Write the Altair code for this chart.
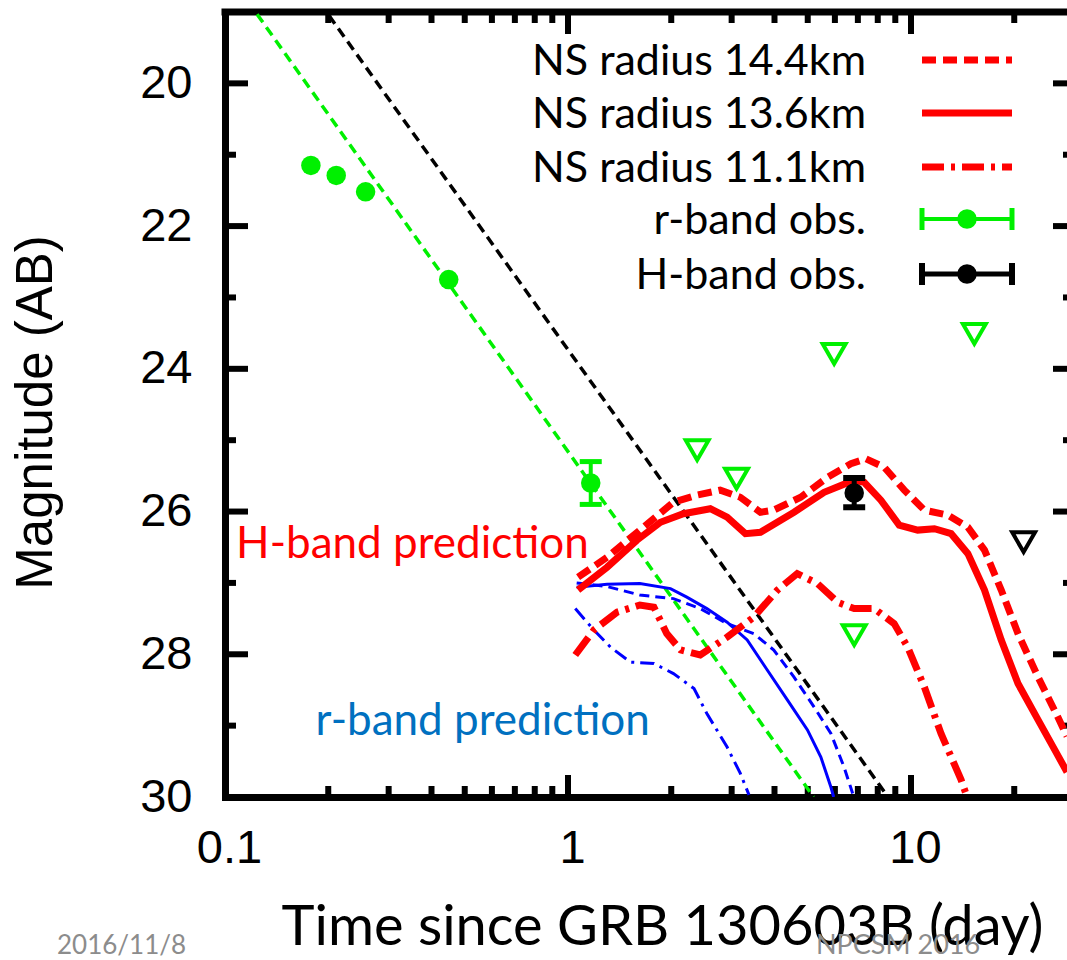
import altair as alt
import pandas as pd

# ---------------- data ----------------
# r-band observations (detections)
r_obs_t = [0.178, 0.211, 0.257, 0.449, 1.165]
r_obs_mag = [21.15, 21.29, 21.52, 22.75, 25.60]
r_err_t = [1.165]
r_err_lo = [25.30]
r_err_hi = [25.90]

# H-band observation
h_obs_t = [6.83]
h_obs_mag = [25.74]
h_err_lo = [25.53]
h_err_hi = [25.94]

# upper limits
r_lim_t = [2.38, 3.10, 5.97, 6.83, 15.3]
r_lim_mag = [25.14, 25.54, 23.79, 27.73, 23.51]
h_lim_t = [21.3]
h_lim_mag = [26.43]

# afterglow power-law fits (straight in log t)
r_ag_t = [0.124, 5.2]
r_ag_mag = [19.03, 30.0]
h_ag_t = [0.201, 8.57]
h_ag_mag = [19.05, 30.0]

# H-band kilonova predictions
h144_t = [1.07, 1.30, 1.62, 2.03, 2.38, 2.78, 3.18, 3.64, 3.98, 4.77, 5.71, 6.68, 7.39, 8.36, 9.56,
          10.94, 12.80, 14.65, 16.38, 18.33, 20.51, 23.47, 26.8, 28.5]
h144_mag = [26.92, 26.64, 26.26, 25.87, 25.77, 25.70, 25.80, 26.01, 25.98, 25.80, 25.52, 25.33, 25.26,
            25.38, 25.70, 25.98, 26.05, 26.22, 26.54, 27.10, 27.71, 28.32, 28.88, 29.15]
h136_t = [1.07, 1.30, 1.59, 1.86, 2.17, 2.60, 2.91, 3.29, 3.64, 4.56, 5.58, 6.82, 7.30, 8.17, 9.24,
          10.46, 11.70, 13.09, 14.65, 16.38, 18.33, 20.51, 23.47, 26.25, 28.5]
h136_mag = [27.10, 26.78, 26.40, 26.15, 26.03, 25.96, 26.08, 26.31, 26.29, 26.01, 25.73, 25.56, 25.59,
            25.84, 26.19, 26.26, 26.24, 26.31, 26.59, 27.10, 27.80, 28.41, 28.92, 29.34, 29.65]
h111_t = [1.05, 1.19, 1.39, 1.62, 1.78, 1.94, 2.13, 2.43, 2.91, 3.48, 4.08, 4.66, 5.34, 6.11, 6.83,
          7.81, 8.93, 9.78, 10.94, 12.23, 14.0, 14.5]
h111_mag = [28.01, 27.66, 27.41, 27.31, 27.34, 27.71, 27.94, 28.01, 27.76, 27.48, 27.10, 26.87, 27.01,
            27.27, 27.36, 27.36, 27.57, 27.90, 28.46, 29.11, 29.76, 29.97]

# r-band kilonova predictions
r144_t = [1.06, 1.30, 1.62, 2.03, 2.43, 2.91, 3.48, 3.98, 4.56, 5.22, 5.84, 6.38, 6.76]
r144_mag = [27.00, 27.05, 27.17, 27.22, 27.36, 27.57, 27.71, 27.94, 28.32, 28.74, 29.11, 29.58, 29.95]
r136_t = [1.06, 1.30, 1.62, 1.99, 2.22, 2.54, 2.91, 3.33, 3.81, 4.36, 4.99, 5.46, 5.84, 5.95]
r136_mag = [27.06, 27.02, 27.01, 27.08, 27.20, 27.36, 27.55, 27.80, 28.22, 28.64, 29.06, 29.44, 29.86, 30.0]
r111_t = [1.05, 1.19, 1.33, 1.52, 1.78, 2.03, 2.33, 2.54, 2.91, 3.18, 3.37]
r111_mag = [27.36, 27.66, 27.90, 28.11, 28.13, 28.27, 28.48, 28.83, 29.30, 29.67, 29.97]

# axis ticks
x_major = [1, 10]
x_minor = [0.2, 0.3, 0.4, 0.5, 0.6, 0.7, 0.8, 0.9, 2, 3, 4, 5, 6, 7, 8, 9, 20]
y_major = [20, 22, 24, 26, 28]
y_minor = [21, 23, 25, 27, 29]
x_labels = [0.1, 1, 10]
y_labels = [20, 22, 24, 26, 28, 30]

legend_labels = ["NS radius 14.4km", "NS radius 13.6km", "NS radius 11.1km", "r-band obs.", "H-band obs."]

# ---------------- layout / styles ----------------
W, H = 842, 785
RED, GREEN, BLUE, BLACK = "#FF0000", "#00F000", "#0000FF", "#000000"
xs = alt.Scale(type="log", domain=[0.1, 28.5], nice=False)
ys = alt.Scale(domain=[19, 30], reverse=True, nice=False, zero=False)
ONE = pd.DataFrame({"a": [0]})

XAX = alt.Axis(
    values=x_labels, format="~g", grid=False, ticks=False, tickSize=0,
    domain=True, domainColor="black", domainWidth=7, domainCap="square",
    labelFont="Liberation Sans", labelFontSize=47, labelColor="black",
    labelPadding=28, labelOffset=4, labelFlush=False, labelOverlap=False,
    title="Time since GRB 130603B (day)", titleFont="Lato", titleFontSize=56,
    titleFontWeight="normal", titleColor="black", titleX=437, titleY=147,
    titleBaseline="alphabetic", titleAlign="center")
YAX = alt.Axis(
    values=y_labels, format="d", grid=False, ticks=False, tickSize=0,
    domain=True, domainColor="black", domainWidth=7, domainCap="square",
    labelFont="Liberation Sans", labelFontSize=47, labelColor="black",
    labelPadding=33, labelFlush=False, labelOverlap=False,
    title="Magnitude (AB)", titleFont="Liberation Sans", titleFontSize=51,
    titleFontWeight="normal", titleColor="black", titleAngle=270,
    titleX=-189, titleY=400, titleAlign="center", titleBaseline="middle")


def X(field="t"):
    return alt.X(f"{field}:Q", scale=xs, axis=XAX)


def Y(field="m"):
    return alt.Y(f"{field}:Q", scale=ys, axis=YAX)


def line(t, m, color, width, dash=None):
    kw = dict(color=color, strokeWidth=width, clip=True)
    if dash:
        kw["strokeDash"] = dash
    return alt.Chart(pd.DataFrame({"t": t, "m": m})).mark_line(**kw).encode(x=X(), y=Y(), order="t:Q")


# axes carrier layer (invisible)
axes = alt.Chart(pd.DataFrame({"t": [0.1], "m": [30]})).mark_point(opacity=0).encode(x=X(), y=Y())

layers = [axes]

# frame top
layers.append(alt.Chart(ONE).mark_rule(color="black", strokeWidth=7, strokeCap="square").encode(
    x=alt.value(0), x2=alt.value(W), y=alt.value(0)))


# ticks (inward)
def xticks(vals, length, top):
    d = pd.DataFrame({"t": vals})
    y0, y1 = (0, length) if top else (H, H - length)
    return alt.Chart(d).mark_rule(color="black", strokeWidth=6).encode(
        x=X(), y=alt.value(y0), y2=alt.value(y1))


def yticks(vals, x0, x1):
    d = pd.DataFrame({"m": vals})
    return alt.Chart(d).mark_rule(color="black", strokeWidth=6).encode(
        y=Y(), x=alt.value(x0), x2=alt.value(x1))


layers += [xticks(x_major, 22, False), xticks(x_minor, 11, False),
           xticks(x_major, 22, True), xticks(x_minor, 11, True),
           yticks(y_major, 0, 23), yticks(y_minor, 0, 11),
           yticks(y_major, W - 14, W), yticks(y_minor, W - 4, W)]

# afterglow lines
layers.append(line(r_ag_t, r_ag_mag, GREEN, 3.5, [10, 6]))
layers.append(line(h_ag_t, h_ag_mag, BLACK, 3.5, [10, 6]))

# r-band predictions (blue, thin)
layers.append(line(r144_t, r144_mag, BLUE, 3, [10, 6]))
layers.append(line(r136_t, r136_mag, BLUE, 3))
layers.append(line(r111_t, r111_mag, BLUE, 3, [14, 6, 3, 6]))

# H-band predictions (red, thick)
layers.append(line(h144_t, h144_mag, RED, 7, [14, 7]))
layers.append(line(h136_t, h136_mag, RED, 7))
layers.append(line(h111_t, h111_mag, RED, 7, [22, 7, 4, 7]))

# upper limits
layers.append(alt.Chart(pd.DataFrame({"t": r_lim_t, "m": r_lim_mag})).mark_point(
    shape="triangle-down", filled=False, color=GREEN, strokeWidth=4, size=520, opacity=1).encode(x=X(), y=Y()))
layers.append(alt.Chart(pd.DataFrame({"t": h_lim_t, "m": h_lim_mag})).mark_point(
    shape="triangle-down", filled=False, color=BLACK, strokeWidth=4, size=520, opacity=1).encode(x=X(), y=Y()))


# error bars
def errbar(t, lo, hi, color, width):
    d = pd.DataFrame({"t": t, "lo": lo, "hi": hi})
    bar = alt.Chart(d).mark_rule(color=color, strokeWidth=width).encode(x=X(), y=Y("lo"), y2="hi:Q")
    cap1 = alt.Chart(d).mark_tick(color=color, orient="horizontal", size=22, thickness=width + 1, opacity=1).encode(x=X(), y=Y("lo"))
    cap2 = alt.Chart(d).mark_tick(color=color, orient="horizontal", size=22, thickness=width + 1, opacity=1).encode(x=X(), y=Y("hi"))
    return [bar, cap1, cap2]


layers += errbar(r_err_t, r_err_lo, r_err_hi, GREEN, 4)
layers += errbar(h_obs_t, h_err_lo, h_err_hi, BLACK, 5)

# detections
layers.append(alt.Chart(pd.DataFrame({"t": r_obs_t, "m": r_obs_mag})).mark_circle(
    color=GREEN, size=380, opacity=1).encode(x=X(), y=Y()))
layers.append(alt.Chart(pd.DataFrame({"t": h_obs_t, "m": h_obs_mag})).mark_circle(
    color=BLACK, size=380, opacity=1).encode(x=X(), y=Y()))

# annotations
layers.append(alt.Chart(pd.DataFrame({"t": [0.352], "m": [26.47], "s": ["H-band prediction"]})).mark_text(
    font="Lato", fontSize=44, color=RED, align="center", baseline="middle").encode(x=X(), y=Y(), text="s:N"))
layers.append(alt.Chart(pd.DataFrame({"t": [0.564], "m": [28.95], "s": ["r-band prediction"]})).mark_text(
    font="Lato", fontSize=44, color="#0070C0", align="center", baseline="middle").encode(x=X(), y=Y(), text="s:N"))

# legend (manual)
LEG_Y = [48, 101, 155, 207, 262]
LX0, LX1, LXC, LTX = 697, 787, 742, 641
for lab, yy in zip(legend_labels, LEG_Y):
    layers.append(alt.Chart(pd.DataFrame({"s": [lab]})).mark_text(
        font="Lato", fontSize=43, color="black", align="right", baseline="middle").encode(
        x=alt.value(LTX), y=alt.value(yy + 2), text="s:N"))

leg_styles = [dict(color=RED, strokeWidth=7, strokeDash=[14, 7]),
              dict(color=RED, strokeWidth=7),
              dict(color=RED, strokeWidth=7, strokeDash=[22, 7, 4, 7])]
for st, yy in zip(leg_styles, LEG_Y[:3]):
    layers.append(alt.Chart(ONE).mark_rule(**st).encode(x=alt.value(LX0), x2=alt.value(LX1), y=alt.value(yy)))

for color, yy, wdt in [(GREEN, LEG_Y[3], 4), (BLACK, LEG_Y[4], 5)]:
    layers.append(alt.Chart(ONE).mark_rule(color=color, strokeWidth=wdt).encode(
        x=alt.value(LX0), x2=alt.value(LX1), y=alt.value(yy)))
    for xx in (LX0, LX1):
        layers.append(alt.Chart(ONE).mark_rule(color=color, strokeWidth=wdt + 1).encode(
            x=alt.value(xx), y=alt.value(yy - 11), y2=alt.value(yy + 11)))
    layers.append(alt.Chart(ONE).mark_circle(color=color, size=380, opacity=1).encode(
        x=alt.value(LXC), y=alt.value(yy)))

# footer texts
layers.append(alt.Chart(pd.DataFrame({"s": ["2016/11/8"]})).mark_text(
    font="Lato", fontSize=26, color="#8C8C8C", align="left", baseline="alphabetic").encode(
    x=alt.value(-168), y=alt.value(942), text="s:N"))
layers.append(alt.Chart(pd.DataFrame({"s": ["NPCSM 2016"]})).mark_text(
    font="Lato", fontSize=27, color="#8C8C8C", align="left", baseline="alphabetic").encode(
    x=alt.value(591), y=alt.value(942), text="s:N"))

chart = alt.layer(*layers).properties(
    width=W, height=H,
    autosize=alt.AutoSizeParams(type="none"),
    padding={"left": 225, "top": 12, "right": 0, "bottom": 163},
    background="white",
).configure_view(stroke=None)

chart.save("out.html", embed_options={"renderer": "svg", "actions": False})
